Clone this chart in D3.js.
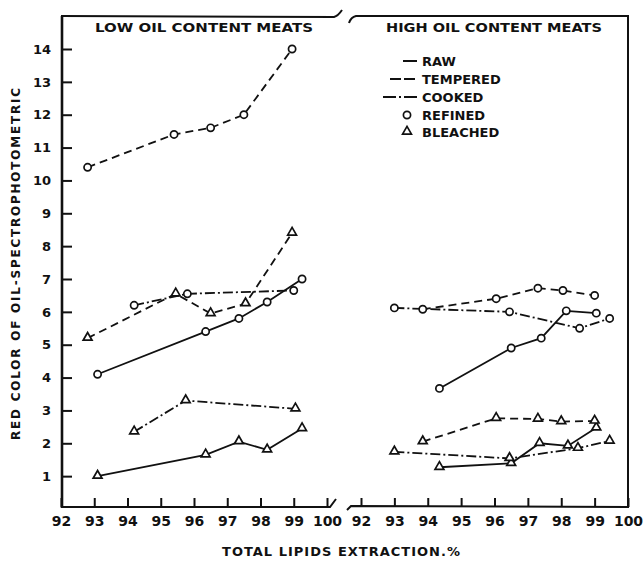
<!DOCTYPE html>
<html>
<head>
<meta charset="utf-8">
<script src="https://cdn.jsdelivr.net/npm/d3@7"></script>
<style>
  body { margin: 0; background: #fff; }
  svg text { font-family: "DejaVu Sans", "Liberation Sans", sans-serif; font-weight: bold; fill: #111; }
</style>
</head>
<body>
<svg width="644" height="562"></svg>
<script>
// tick labels
var xTicks = [92, 93, 94, 95, 96, 97, 98, 99, 100];
var yTicks = [1, 2, 3, 4, 5, 6, 7, 8, 9, 10, 11, 12, 13, 14];

// low oil content meats  [lipids %, red color]
var lowRawRefined      = [[93.1, 4.1], [96.35, 5.4], [97.35, 5.8], [98.2, 6.3], [99.25, 7.0]];
var lowRawBleached     = [[93.1, 1.0], [96.35, 1.65], [97.35, 2.05], [98.2, 1.8], [99.25, 2.45]];
var lowTemperedRefined = [[92.8, 10.4], [95.4, 11.4], [96.5, 11.6], [97.5, 12.0], [98.95, 14.0]];
var lowTemperedBleached= [[92.8, 5.2], [95.45, 6.55], [96.5, 5.95], [97.55, 6.25], [98.95, 8.4]];
var lowCookedRefined   = [[94.2, 6.2], [95.8, 6.55], [99.0, 6.65]];
var lowCookedBleached  = [[94.2, 2.35], [95.75, 3.3], [99.05, 3.05]];

// high oil content meats
var highRawRefined      = [[94.35, 3.67], [96.5, 4.9], [97.4, 5.2], [98.15, 6.03], [99.05, 5.96]];
var highRawBleached     = [[94.35, 1.27], [96.5, 1.39], [97.35, 2.0], [98.2, 1.92], [99.05, 2.47]];
var highTemperedRefined = [[93.85, 6.08], [96.05, 6.4], [97.3, 6.72], [98.05, 6.65], [99.0, 6.5]];
var highTemperedBleached= [[93.85, 2.05], [96.05, 2.76], [97.3, 2.74], [98.0, 2.66], [99.0, 2.68]];
var highCookedRefined   = [[93.0, 6.12], [96.45, 6.0], [98.55, 5.5], [99.45, 5.8]];
var highCookedBleached  = [[93.0, 1.74], [96.45, 1.54], [98.5, 1.85], [99.45, 2.07]];

var legendStages = ["RAW", "TEMPERED", "COOKED"];
var legendMarks = ["REFINED", "BLEACHED"];

var dash = { RAW: null, TEMPERED: "8,5", COOKED: "10,3,2,3" };

var svg = d3.select("svg");

var y = d3.scaleLinear().domain([0, 14]).range([509, 49]);
var xLow = d3.scaleLinear().domain([92, 100]).range([61, 327]);
var xHigh = d3.scaleLinear().domain([92, 100]).range([361, 628]);

var series = [
  { x: xLow, stage: "RAW", mark: "REFINED", values: lowRawRefined },
  { x: xLow, stage: "RAW", mark: "BLEACHED", values: lowRawBleached },
  { x: xLow, stage: "TEMPERED", mark: "REFINED", values: lowTemperedRefined },
  { x: xLow, stage: "TEMPERED", mark: "BLEACHED", values: lowTemperedBleached },
  { x: xLow, stage: "COOKED", mark: "REFINED", values: lowCookedRefined },
  { x: xLow, stage: "COOKED", mark: "BLEACHED", values: lowCookedBleached },
  { x: xHigh, stage: "RAW", mark: "REFINED", values: highRawRefined },
  { x: xHigh, stage: "RAW", mark: "BLEACHED", values: highRawBleached },
  { x: xHigh, stage: "TEMPERED", mark: "REFINED", values: highTemperedRefined },
  { x: xHigh, stage: "TEMPERED", mark: "BLEACHED", values: highTemperedBleached },
  { x: xHigh, stage: "COOKED", mark: "REFINED", values: highCookedRefined },
  { x: xHigh, stage: "COOKED", mark: "BLEACHED", values: highCookedBleached }
];

var triangle = d3.symbol().type(d3.symbolTriangle).size(34);

function drawMark(g, mark, px, py) {
  if (mark === "REFINED") {
    g.append("circle").attr("cx", px).attr("cy", py).attr("r", 3.6)
      .attr("fill", "#fff").attr("stroke", "#111").attr("stroke-width", 1.7);
  } else {
    g.append("path").attr("d", triangle).attr("transform", "translate(" + px + "," + (py - 0.5) + ")")
      .attr("fill", "#fff").attr("stroke", "#111").attr("stroke-width", 1.7);
  }
}

// frame
var frame = svg.append("g").attr("fill", "none").attr("stroke", "#111");
frame.append("path").attr("stroke-width", 2.6)
  .attr("d", "M62,16 L62,508");
frame.append("path").attr("stroke-width", 2)
  .attr("d", "M61,16 L334,17 Q338,16 342,10");
frame.append("path").attr("stroke-width", 2)
  .attr("d", "M349,23 Q351,17 356,16 L628,16 L628,508");
frame.append("path").attr("stroke-width", 2)
  .attr("d", "M61,507 L330,507 L336,499");
frame.append("path").attr("stroke-width", 2)
  .attr("d", "M347,510 L351,506 L628,507");

// y axis
var yAxis = d3.axisLeft(y).tickValues(yTicks).tickSizeInner(-10).tickSizeOuter(0).tickPadding(11)
  .tickFormat(d3.format("d"));
var gy = svg.append("g").attr("transform", "translate(62,0)").call(yAxis);
gy.select(".domain").remove();
gy.selectAll(".tick line").attr("stroke", "#111").attr("stroke-width", 2);
gy.selectAll(".tick text").style("font-size", "13px").attr("fill", "#111");

// x axes
[xLow, xHigh].forEach(function (sc) {
  var ax = d3.axisBottom(sc).tickValues(xTicks).tickSizeInner(-9).tickSizeOuter(0).tickPadding(6)
    .tickFormat(d3.format("d"));
  var gx = svg.append("g").attr("transform", "translate(0,507)").call(ax);
  gx.select(".domain").remove();
  gx.selectAll(".tick line").attr("stroke", "#111").attr("stroke-width", 2);
  gx.selectAll(".tick text").style("font-size", "14px").attr("fill", "#111").attr("dy", "0.9em");
});

// lines + markers
var plot = svg.append("g");
series.forEach(function (s) {
  var line = d3.line().x(function (d) { return s.x(d[0]); }).y(function (d) { return y(d[1]); });
  plot.append("path").datum(s.values).attr("d", line)
    .attr("fill", "none").attr("stroke", "#111").attr("stroke-width", 1.8)
    .attr("stroke-dasharray", dash[s.stage]);
});
series.forEach(function (s) {
  s.values.forEach(function (d) { drawMark(plot, s.mark, s.x(d[0]), y(d[1])); });
});

// titles
svg.append("text").attr("x", 204).attr("y", 32).attr("text-anchor", "middle")
  .style("font-size", "13px").attr("textLength", 218).attr("lengthAdjust", "spacingAndGlyphs")
  .text("LOW OIL CONTENT MEATS");
svg.append("text").attr("x", 494).attr("y", 32).attr("text-anchor", "middle")
  .style("font-size", "13px").attr("textLength", 216).attr("lengthAdjust", "spacingAndGlyphs")
  .text("HIGH OIL CONTENT MEATS");

// legend
var leg = svg.append("g");
var legY = [61, 79, 97, 115, 132];
legendStages.forEach(function (st, i) {
  var x0 = st === "RAW" ? 403 : st === "TEMPERED" ? 390 : 383;
  leg.append("line").attr("x1", x0).attr("x2", 417).attr("y1", legY[i]).attr("y2", legY[i])
    .attr("stroke", "#111").attr("stroke-width", 2)
    .attr("stroke-dasharray", st === "TEMPERED" ? "11,3" : st === "COOKED" ? "13,3,2,3" : null);
  leg.append("text").attr("x", 422).attr("y", legY[i] + 5).style("font-size", "13px").text(st);
});
legendMarks.forEach(function (m, i) {
  drawMark(leg, m, 407, legY[3 + i]);
  leg.append("text").attr("x", 422).attr("y", legY[3 + i] + 5).style("font-size", "13px").text(m);
});

// axis titles
svg.append("text").attr("transform", "translate(20,264) rotate(-90)").attr("text-anchor", "middle")
  .style("font-size", "12px").attr("textLength", 352).attr("lengthAdjust", "spacing")
  .text("RED COLOR OF OIL-SPECTROPHOTOMETRIC");
svg.append("text").attr("x", 341).attr("y", 556).attr("text-anchor", "middle")
  .style("font-size", "13px").attr("textLength", 238).attr("lengthAdjust", "spacing")
  .text("TOTAL LIPIDS EXTRACTION.%");
</script>
</body>
</html>
